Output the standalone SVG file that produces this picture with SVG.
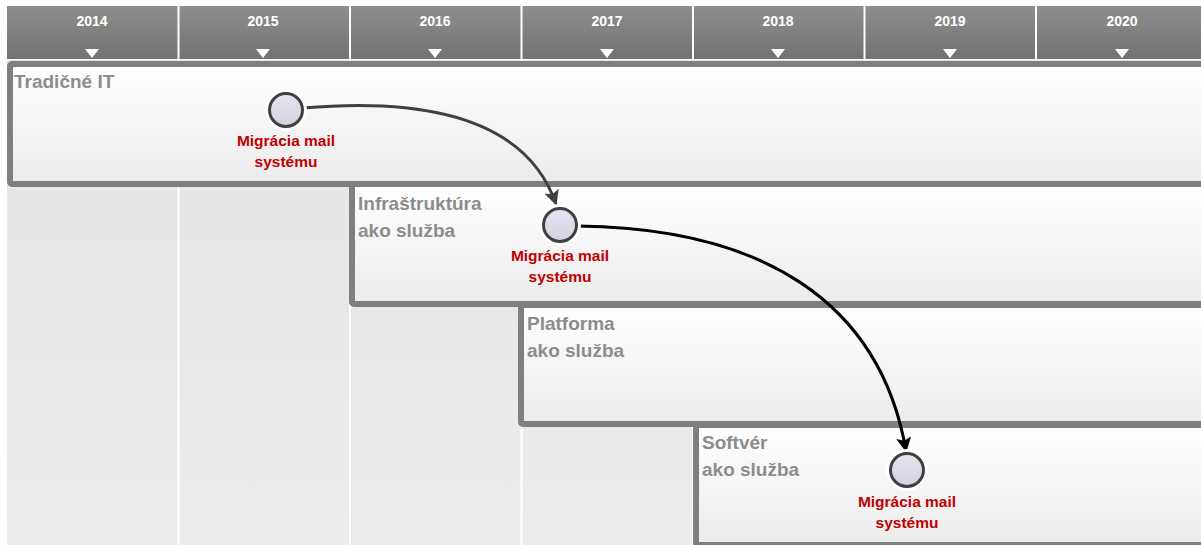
<svg xmlns="http://www.w3.org/2000/svg" width="1201" height="545" viewBox="0 0 1201 545">
<defs>
<linearGradient id="hdr" x1="0" y1="0" x2="0" y2="1"><stop offset="0" stop-color="#8e8e8e"/><stop offset="1" stop-color="#727272"/></linearGradient>
<linearGradient id="band" x1="0" y1="0" x2="0" y2="1"><stop offset="0" stop-color="#ffffff"/><stop offset="1" stop-color="#ebebeb"/></linearGradient>
<linearGradient id="col" x1="0" y1="0" x2="0" y2="1"><stop offset="0" stop-color="#e4e4e4"/><stop offset="1" stop-color="#ececec"/></linearGradient>
<linearGradient id="dot" x1="0" y1="0" x2="0" y2="1"><stop offset="0" stop-color="#e6e3ee"/><stop offset="1" stop-color="#d6d0e0"/></linearGradient>
<marker id="ah1" viewBox="0 0 10 10" refX="9" refY="5" markerWidth="5" markerHeight="5" orient="auto" markerUnits="strokeWidth"><path d="M0,0 L10,5 L0,10 L2,5 z" fill="#404040"/></marker>
<marker id="ah2" viewBox="0 0 10 10" refX="9" refY="5" markerWidth="5" markerHeight="5" orient="auto" markerUnits="strokeWidth"><path d="M0,0 L10,5 L0,10 L2,5 z" fill="#000000"/></marker>
</defs>
<style>
.yr{font-family:"Liberation Sans",Arial,sans-serif;font-weight:bold;font-size:14px;fill:#ffffff;text-anchor:middle}
.tri{fill:#ffffff}
.sep{stroke:#ffffff;stroke-width:2}
.bandr{fill:url(#band);stroke:#7f7f7f;stroke-width:6}
.title{font-family:"Liberation Sans",Arial,sans-serif;font-weight:bold;font-size:19px;fill:#8c8c8c}
.lbl{font-family:"Liberation Sans",Arial,sans-serif;font-weight:bold;font-size:15.5px;fill:#c00000;text-anchor:middle}
.halo{fill:#ffffff}
.dotc{fill:url(#dot);stroke:#404040;stroke-width:3}
</style>
<rect x="0" y="0" width="1201" height="545" fill="#ffffff"/>
<g id="background">
<rect x="7" y="60" width="1194" height="485" fill="url(#col)"/>
<line class="sep" x1="178.5" y1="60" x2="178.5" y2="545"/>
<line class="sep" x1="350" y1="60" x2="350" y2="545"/>
<line class="sep" x1="521.5" y1="60" x2="521.5" y2="545"/>
<line class="sep" x1="693" y1="60" x2="693" y2="545"/>
<line class="sep" x1="864.5" y1="60" x2="864.5" y2="545"/>
<line class="sep" x1="1036" y1="60" x2="1036" y2="545"/>
</g>
<g id="header">
<rect x="7" y="6" width="1194" height="53" fill="url(#hdr)"/>
<line class="sep" x1="178.5" y1="6" x2="178.5" y2="59"/>
<line class="sep" x1="350" y1="6" x2="350" y2="59"/>
<line class="sep" x1="521.5" y1="6" x2="521.5" y2="59"/>
<line class="sep" x1="693" y1="6" x2="693" y2="59"/>
<line class="sep" x1="864.5" y1="6" x2="864.5" y2="59"/>
<line class="sep" x1="1036" y1="6" x2="1036" y2="59"/>
<text class="yr" x="92" y="26">2014</text>
<text class="yr" x="263" y="26">2015</text>
<text class="yr" x="435" y="26">2016</text>
<text class="yr" x="607" y="26">2017</text>
<text class="yr" x="778" y="26">2018</text>
<text class="yr" x="950" y="26">2019</text>
<text class="yr" x="1122" y="26">2020</text>
<path class="tri" d="M85,49 L99,49 L92,58 z"/>
<path class="tri" d="M256,49 L270,49 L263,58 z"/>
<path class="tri" d="M428,49 L442,49 L435,58 z"/>
<path class="tri" d="M600,49 L614,49 L607,58 z"/>
<path class="tri" d="M771,49 L785,49 L778,58 z"/>
<path class="tri" d="M943,49 L957,49 L950,58 z"/>
<path class="tri" d="M1115,49 L1129,49 L1122,58 z"/>
</g>
<g id="band-tradicne-it">
<rect class="bandr" x="10" y="64" width="1200" height="120" rx="2"/>
<text class="title" x="14" y="88">Tradičné IT</text>
</g>
<g id="band-iaas">
<rect class="bandr" x="352" y="184" width="860" height="120" rx="2"/>
<text class="title" x="358" y="210">Infraštruktúra</text>
<text class="title" x="358" y="237">ako služba</text>
</g>
<g id="band-paas">
<rect class="bandr" x="521" y="305" width="700" height="119" rx="2"/>
<text class="title" x="527" y="330">Platforma</text>
<text class="title" x="527" y="357">ako služba</text>
</g>
<g id="band-saas">
<rect class="bandr" x="696" y="425" width="520" height="120" rx="2"/>
<text class="title" x="702" y="449">Softvér</text>
<text class="title" x="702" y="476">ako služba</text>
</g>
<g id="connectors">
<path d="M303,108 C420,98 525,115 556,204" fill="none" stroke="#404040" stroke-width="3" marker-end="url(#ah1)"/>
<path d="M578,226 C760,228 880,300 906,451" fill="none" stroke="#000000" stroke-width="3" marker-end="url(#ah2)"/>
</g>
<g id="milestone-1">
<circle class="halo" cx="286" cy="110" r="21"/>
<circle class="dotc" cx="286" cy="110" r="16.5"/>
<text class="lbl" x="286" y="146">Migrácia mail</text>
<text class="lbl" x="286" y="167">systému</text>
</g>
<g id="milestone-2">
<circle class="halo" cx="560" cy="225" r="21"/>
<circle class="dotc" cx="560" cy="225" r="16.5"/>
<text class="lbl" x="560" y="261">Migrácia mail</text>
<text class="lbl" x="560" y="282">systému</text>
</g>
<g id="milestone-3">
<circle class="halo" cx="907" cy="470" r="21"/>
<circle class="dotc" cx="907" cy="470" r="16.5"/>
<text class="lbl" x="907" y="507">Migrácia mail</text>
<text class="lbl" x="907" y="528">systému</text>
</g>
</svg>
